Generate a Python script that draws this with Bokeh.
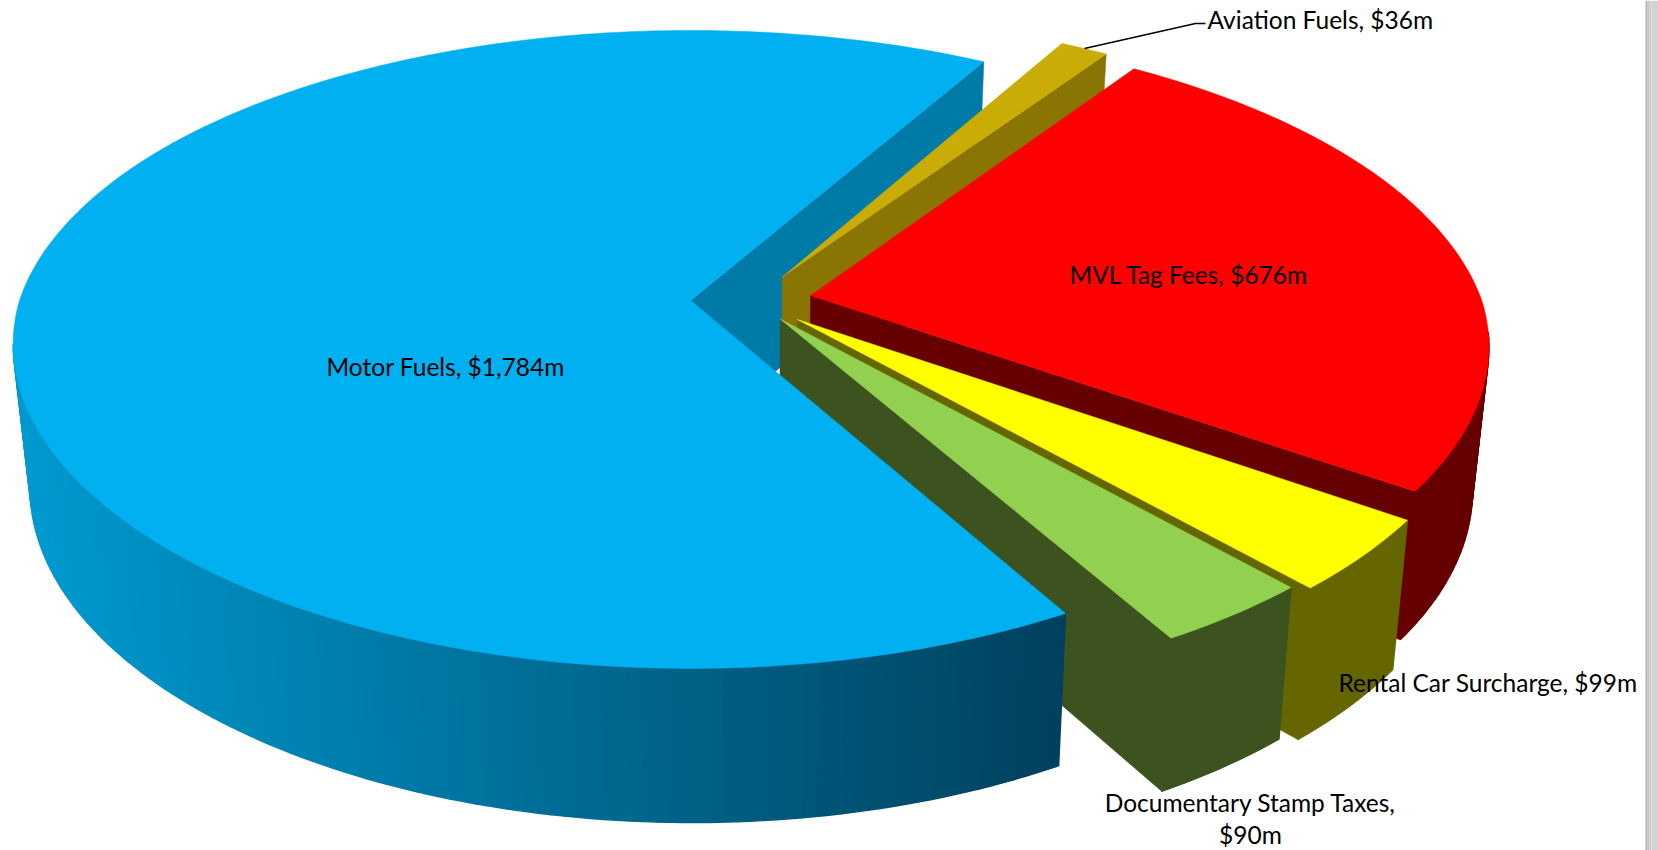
import numpy as np
from bokeh.plotting import figure
from bokeh.models import ColumnDataSource, Range1d
from bokeh.core.properties import value
from bokeh.embed import file_html
from bokeh.resources import INLINE

# ---- data (clockwise from the first-slice angle) ----
categories = ["Aviation Fuels", "MVL Tag Fees", "Rental Car Surcharge", "Documentary Stamp Taxes", "Motor Fuels"]
revenue = [36, 676, 99, 90, 1784]
label_lines = [["Aviation Fuels, $36m"], ["MVL Tag Fees, $676m"], ["Rental Car Surcharge, $99m"],
               ["Documentary Stamp Taxes,", "$90m"], ["Motor Fuels, $1,784m"]]

# ---- style ----
top_colors = ["#C9AC06", "#FF0000", "#FFFF00", "#92D050", "#00B0F0"]
wall_colors = ["#8A7404", "#660000", "#666600", "#3C5320", "#007BA8"]
explode = [0.0904, 0.0904, 0.0904, 0.0725, 0.0904]

# ---- 3-D pie geometry ----
FIRST_ANGLE = 29.7
PIVOT_X, PIVOT_Y = 690.0, 300.0
RX, RY = 671.0, 311.5
K, KX_FRONT = 0.1536, 0.137
CENTER_U = 0.0904
RIM_FROM, RIM_TO = 96, 262   # bearings between which the outer wall faces the viewer


def project(u, v):
    u, v = np.asarray(u, float), np.asarray(v, float)
    kx = np.where(v > 0, KX_FRONT, K)
    return PIVOT_X + RX * u / (1 - kx * v), PIVOT_Y + RY * v / (1 - K * v)


def drop(x, y):
    return x + (760 - x) * 0.0227, y + 134 + 0.0315 * (y - 30)


def uv(center, bearing):
    b = np.radians(bearing)
    return center[0] + np.sin(b), center[1] - np.cos(b)


shares = np.array(revenue, float) / sum(revenue) * 360
starts = FIRST_ANGLE + np.concatenate([[0], np.cumsum(shares)[:-1]])
ends = starts + shares

layers = {"xs": [], "ys": [], "c": [], "w": []}


def add(xs, ys, color, width=0.5):
    layers["xs"].append(list(map(float, xs)))
    layers["ys"].append(list(map(float, ys)))
    layers["c"].append(color)
    layers["w"].append(width)


def blue_rim_color(x):
    t = np.clip((x - 30) / 1030, 0, 1)
    g = 153 + (66 - 153) * t
    b = 207 + (94 - 207) * t
    return "#00%02X%02X" % (int(g), int(b))


def slice_shape(i):
    mid = np.radians((starts[i] + ends[i]) / 2)
    cen = (CENTER_U + explode[i] * np.sin(mid), -explode[i] * np.cos(mid))
    ax, ay = map(float, project(*cen))
    angs = np.linspace(starts[i], ends[i], max(int(shares[i]), 6))
    tx, ty = project(*uv(cen, angs))
    bx, by = drop(tx, ty)
    abx, aby = drop(ax, ay)
    return ax, ay, abx, aby, angs, tx, ty, bx, by


def add_end_wall(i):
    ax, ay, abx, aby, angs, tx, ty, bx, by = slice_shape(i)
    add([ax, tx[-1], bx[-1], abx], [ay, ty[-1], by[-1], aby], wall_colors[i])


BLUE = categories.index("Motor Fuels")
add_end_wall(BLUE)

for i in list(range(len(categories) - 1)) + [BLUE]:
    ax, ay, abx, aby, angs, tx, ty, bx, by = slice_shape(i)
    if i != BLUE:
        add_end_wall(i)
    for j in range(len(angs) - 1):
        if angs[j] < RIM_FROM or angs[j] > RIM_TO:
            continue
        col = blue_rim_color((tx[j] + tx[j + 1]) / 2) if i == BLUE else wall_colors[i]
        add([tx[j], tx[j + 1], bx[j + 1], bx[j]], [ty[j], ty[j + 1], by[j + 1], by[j]], col, 1.4)
    add(np.r_[ax, tx], np.r_[ay, ty], top_colors[i])

p = figure(width=1658, height=850, x_range=Range1d(0, 1658), y_range=Range1d(850, 0),
           output_backend="svg", toolbar_location=None, min_border=0,
           background_fill_color="white", border_fill_color="white", outline_line_color=None)
p.axis.visible = False
p.grid.visible = False

src = ColumnDataSource(dict(xs=layers["xs"], ys=layers["ys"], c=layers["c"], w=layers["w"]))
p.patches("xs", "ys", source=src, fill_color="c", line_color="c", line_width="w")

# window shadow at the right edge
p.quad(left=[1645, 1647, 1649, 1651], right=[1647, 1649, 1651, 1658], top=[0] * 4, bottom=[850] * 4,
       fill_color=["#B4B4B4", "#C4C4C4", "#CECECE", "#D3D3D3"], line_color=None)

# leader line
p.line([1084, 1195, 1205], [48, 23, 23], line_color="black", line_width=1.5)

# labels
label_x = [1207, 1069, 1338, 1250, 326]
label_y = [19, 274, 682, 802, 366]
FONT = value("Lato")
for i, lines in enumerate(label_lines):
    for n, t in enumerate(lines):
        if len(lines) > 1:
            p.text([label_x[i]], [label_y[i] + 32 * n], text=[t], text_font=FONT, text_font_size="24.5px",
                   text_color="black", text_align="center", text_baseline="middle")
        else:
            p.text([label_x[i]], [label_y[i]], text=[t], text_font=FONT, text_font_size="24.5px",
                   text_color="black", text_align="left", text_baseline="middle")

open("out.html", "w").write(file_html(p, INLINE))
